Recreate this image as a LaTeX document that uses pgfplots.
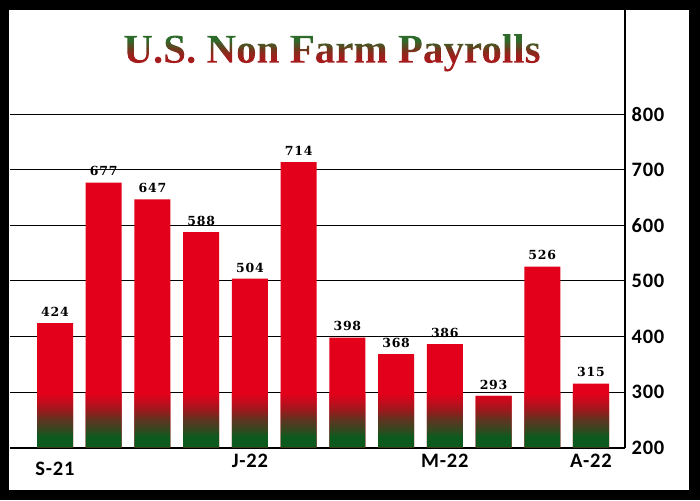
\documentclass[border=0pt]{standalone}
\usepackage{pgfplots}
\pgfplotsset{compat=1.18}
\usepackage{fontspec}
\setmainfont{Liberation Serif}
\newfontfamily\titlefont{Liberation Serif}
\newfontfamily\tickfont{Carlito}[LetterSpace=4]
\newfontfamily\valfont{DejaVu Serif}[LetterSpace=6]
\definecolor{barred}{HTML}{E2001A}
\definecolor{barred2}{HTML}{C80A1C}
\definecolor{bardark}{HTML}{9A1A1C}
\definecolor{barmid}{HTML}{5E3520}
\definecolor{barmid2}{HTML}{34481F}
\definecolor{bargreen}{HTML}{0D5A1F}
\definecolor{titlered}{HTML}{A51C1C}
\pgfdeclareverticalshading{barshade}{100bp}{color(0bp)=(bargreen); color(35bp)=(bargreen); color(41bp)=(barmid2); color(50bp)=(barmid); color(58.5bp)=(bardark); color(67.5bp)=(barred2); color(74bp)=(barred); color(100bp)=(barred)}
\newcommand{\titlesize}{\titlefont\bfseries\fontsize{41}{41}\selectfont}
% gradient fill of the title: text render mode 7 (clip), then colour bands
\newcommand{\gradtitle}[1]{%
  \special{pdf:literal direct q 7 Tr}%
  #1%
  \special{pdf:literal 0.647 0.110 0.110 rg -440 -15 450 21 re f 0.59 0.14 0.11 rg -440 6 450 3 re f 0.53 0.17 0.115 rg -440 9 450 3 re f 0.43 0.227 0.118 rg -440 12 450 3 re f 0.35 0.29 0.13 rg -440 15 450 3 re f 0.27 0.35 0.15 rg -440 18 450 3 re f 0.18 0.42 0.169 rg -440 21 450 20 re f}%
  \special{pdf:literal direct Q}%
}
\begin{document}%
\begin{tikzpicture}
\fill[black] (0pt,0pt) rectangle (700pt,500pt);
\fill[white] (9pt,10pt) rectangle (689pt,490pt);
\begin{axis}[
  at={(10pt,52.5pt)}, anchor=south west,
  width=615pt, height=437.5pt, scale only axis,
  xmin=-0.924, xmax=11.698, ymin=200, ymax=988,
  axis x line*=bottom, axis y line*=right,
  axis line style={line width=2pt, -},
  ytick={200,300,...,800},
  ymajorgrids, grid style={black, line width=0.9pt},
  yticklabel pos=right,
  yticklabel style={xshift=3pt},
  xtick={4,8,11}, xticklabels={J-22,M-22,A-22},
  xticklabel style={yshift=-3pt},
  extra x ticks={0}, extra x tick labels={S-21},
  extra x tick style={tick label style={yshift=-8pt}},
  major tick length=0pt,
  tick label style={font=\tickfont\bfseries\fontsize{20.5}{20.5}\selectfont},
  /pgf/number format/assume math mode=true,
]
\addplot[ybar, bar width=36pt, bar shift=0pt, fill=barred, draw=none,
  nodes near coords,
  every node near coord/.append style={font=\valfont\bfseries\fontsize{12.5}{12.5}\selectfont, text=black, yshift=3pt}]
  coordinates {(0,424) (1,677) (2,647) (3,588) (4,504) (5,714) (6,398) (7,368) (8,386) (9,293) (10,526) (11,315)};
\addplot[ybar, bar width=36pt, bar shift=0pt, draw=none, shading=barshade]
  coordinates {(0,300) (1,300) (2,300) (3,300) (4,300) (5,300) (6,300) (7,300) (8,300) (9,293) (10,300) (11,300)};
\end{axis}
\node[anchor=base, font=\titlesize, text=titlered, inner sep=0pt] at (332pt,437.3pt) {\gradtitle{U.S. Non Farm Payrolls}};
\end{tikzpicture}%
\end{document}
